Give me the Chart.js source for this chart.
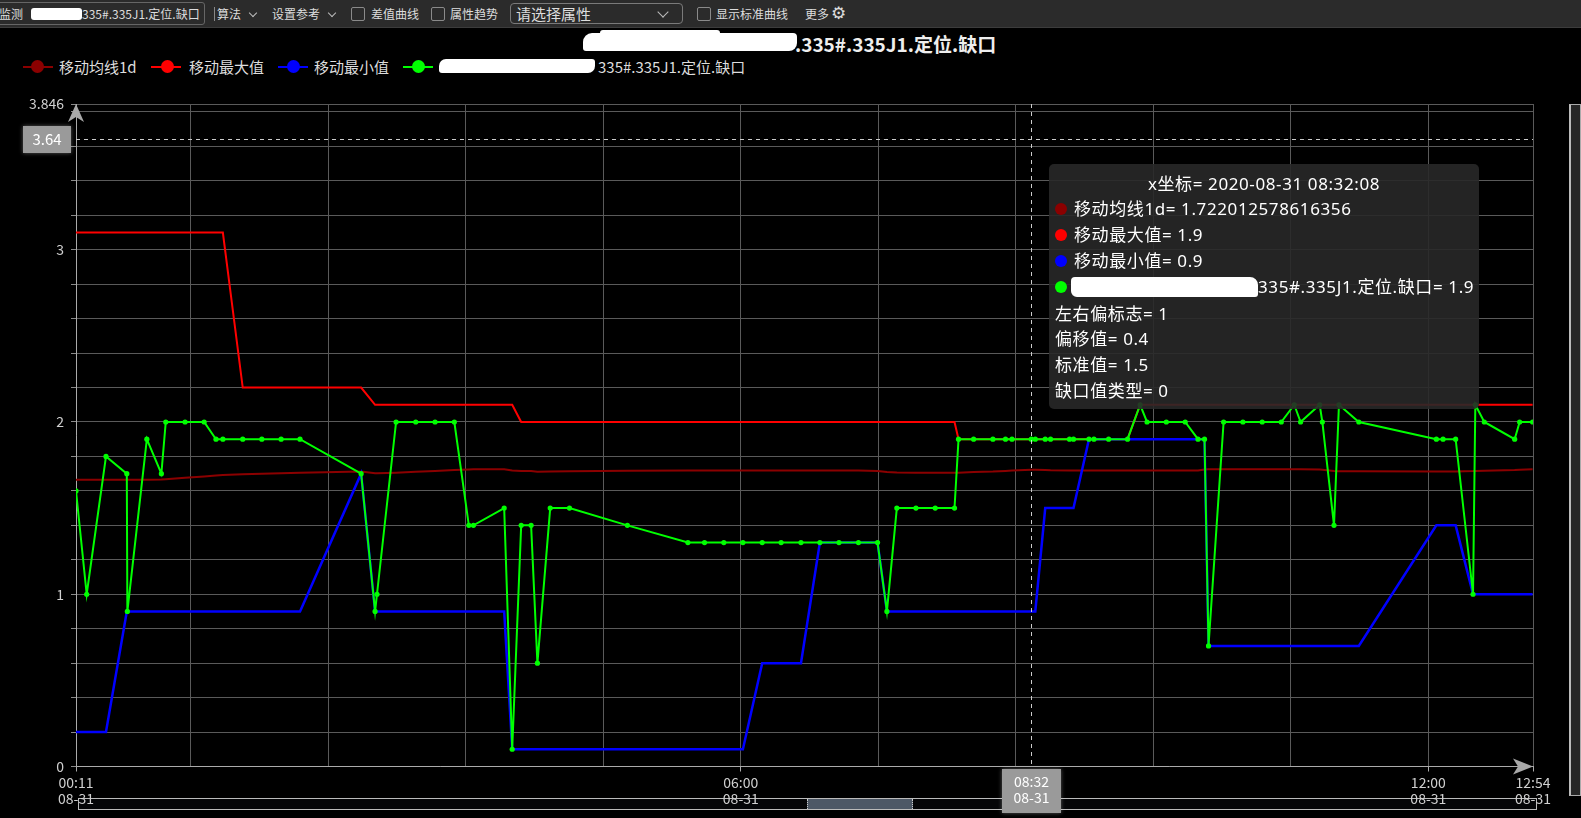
<!DOCTYPE html>
<html><head><meta charset="utf-8">
<script src="https://cdn.jsdelivr.net/npm/chart.js@4.4.1/dist/chart.umd.min.js"></script>
<style>
html,body{margin:0;padding:0;background:#000;width:1581px;height:818px;overflow:hidden;font-family:"Noto Sans CJK SC","Noto Sans",sans-serif;}
.abs{position:absolute;white-space:nowrap;}
#toolbar{position:absolute;left:0;top:0;width:1581px;height:27px;background:#2b2b2b;border-bottom:1px solid #3c3c3c;}
.t12{position:absolute;font-size:12px;color:#ddd;line-height:27px;top:0;white-space:nowrap;}
.cb{position:absolute;top:7px;width:14px;height:14px;border:1px solid #8a8a8a;border-radius:2px;background:#2b2b2b;box-sizing:border-box;}
.chev{position:absolute;width:5px;height:5px;border-right:1px solid #bbb;border-bottom:1px solid #bbb;transform:rotate(45deg);}
.blob{position:absolute;background:#fff;}
.legline{position:absolute;top:9px;height:2px;width:30px;}
.legdot{position:absolute;top:3px;width:13px;height:13px;border-radius:50%;}
.legtxt{position:absolute;font-size:15px;color:#ddd;line-height:19px;top:57px;white-space:nowrap;}
#wrap{position:absolute;left:0;top:0;width:1581px;height:818px;z-index:2;}
#tip{position:absolute;left:1049px;top:164px;width:430px;height:245px;background:rgba(40,40,40,0.9);border-radius:5px;z-index:3;color:#fff;font-size:17px;letter-spacing:0.6px;font-family:"Noto Sans","Noto Sans CJK SC",sans-serif;}
#tip .ln{position:absolute;left:0;height:26px;line-height:26px;white-space:nowrap;}
#tip .d{position:absolute;top:7px;width:12px;height:12px;border-radius:50%;}
</style></head>
<body>
<div id="toolbar">
  <div class="abs" style="left:-3px;top:2px;width:208px;height:23px;border:1px solid #666;border-radius:3px;box-sizing:border-box;overflow:hidden;">
    <span class="abs" style="left:1px;top:0;font-size:12px;color:#ddd;line-height:21px;">监测</span>
    <div class="blob" style="left:33px;top:5px;width:51px;height:12px;border-radius:3px;"></div>
    <span class="abs" style="left:84px;top:0;font-size:12px;color:#ddd;line-height:21px;">335#.335J1.定位.缺口</span>
  </div>
  <div class="abs" style="left:214px;top:7px;width:1px;height:14px;background:#888;"></div>
  <span class="t12" style="left:217px;">算法</span>
  <div class="chev" style="left:250px;top:10px;"></div>
  <span class="t12" style="left:272px;">设置参考</span>
  <div class="chev" style="left:329px;top:10px;"></div>
  <div class="cb" style="left:351px;"></div>
  <span class="t12" style="left:371px;">差值曲线</span>
  <div class="cb" style="left:431px;"></div>
  <span class="t12" style="left:450px;">属性趋势</span>
  <div class="abs" style="left:510px;top:3px;width:173px;height:21px;border:1px solid #7a7a7a;border-radius:4px;box-sizing:border-box;"></div>
  <span class="abs" style="left:516px;top:0;font-size:15px;color:#ddd;line-height:27px;">请选择属性</span>
  <div class="chev" style="left:659px;top:8px;width:7px;height:7px;"></div>
  <div class="cb" style="left:697px;"></div>
  <span class="t12" style="left:716px;">显示标准曲线</span>
  <span class="t12" style="left:805px;">更多</span>
  <span class="abs" style="left:831px;top:0;font-size:17px;color:#ddd;line-height:26px;font-family:'DejaVu Sans';">⚙</span>
</div>

<!-- title -->
<div class="blob" style="left:583px;top:33px;width:214px;height:18px;border-radius:9px 4px 8px 3px;"></div>
<div class="blob" style="left:600px;top:30px;width:120px;height:6px;border-radius:3px;"></div>
<span class="abs" style="left:795px;top:30px;font-size:19px;font-weight:bold;color:#eee;line-height:28px;">.335#.335J1.定位.缺口</span>

<!-- legend -->
<div class="legline" style="left:23px;top:66px;background:#8b0000;"></div><div class="legdot" style="left:31px;top:60px;background:#8b0000;"></div>
<span class="legtxt" style="left:59px;">移动均线1d</span>
<div class="legline" style="left:151px;top:66px;background:#ff0000;"></div><div class="legdot" style="left:161px;top:60px;background:#ff0000;"></div>
<span class="legtxt" style="left:189px;">移动最大值</span>
<div class="legline" style="left:278px;top:66px;background:#0000ff;"></div><div class="legdot" style="left:287px;top:60px;background:#0000ff;"></div>
<span class="legtxt" style="left:314px;">移动最小值</span>
<div class="legline" style="left:403px;top:66px;background:#00ff00;"></div><div class="legdot" style="left:412px;top:60px;background:#00ff00;"></div>
<div class="blob" style="left:439px;top:59px;width:156px;height:14px;border-radius:7px 3px 7px 3px;"></div>
<span class="legtxt" style="left:598px;">335#.335J1.定位.缺口</span>

<!-- slider & scrollbar -->
<div class="abs" style="left:78px;top:798px;width:1459px;height:12px;border:1px solid #bbb;box-sizing:border-box;z-index:1;background:#050608;"></div>
<div class="abs" style="left:807px;top:799px;width:106px;height:10px;background:#4d5866;z-index:1;border-left:1px dotted #ccc;border-right:1px dotted #ccc;box-sizing:border-box;"></div>
<div class="abs" style="left:1569px;top:104px;width:12px;height:692px;border:1px solid #aaa;border-left:2px solid #bbb;background:#262626;box-sizing:border-box;"></div>

<div id="wrap"><canvas id="c" width="1581" height="818"></canvas></div>

<div id="tip">
  <div class="ln" style="top:7px;width:430px;text-align:center;">x坐标= 2020-08-31 08:32:08</div>
  <div class="ln" style="top:32px;left:6px;"><span class="d" style="left:0;background:#8b0000;"></span><span style="position:absolute;left:19px;">移动均线1d= 1.722012578616356</span></div>
  <div class="ln" style="top:58px;left:6px;"><span class="d" style="left:0;background:#ff0000;"></span><span style="position:absolute;left:19px;">移动最大值= 1.9</span></div>
  <div class="ln" style="top:84px;left:6px;"><span class="d" style="left:0;background:#0000ff;"></span><span style="position:absolute;left:19px;">移动最小值= 0.9</span></div>
  <div class="ln" style="top:110px;left:6px;width:420px;"><span class="d" style="left:0;background:#00ff00;"></span>
    <div class="blob" style="left:16px;top:3px;width:187px;height:20px;border-radius:4px 8px 3px 6px;"></div>
    <span style="position:absolute;left:203px;">335#.335J1.定位.缺口= 1.9</span></div>
  <div class="ln" style="top:137px;left:6px;">左右偏标志= 1</div>
  <div class="ln" style="top:162px;left:6px;">偏移值= 0.4</div>
  <div class="ln" style="top:188px;left:6px;">标准值= 1.5</div>
  <div class="ln" style="top:214px;left:6px;">缺口值类型= 0</div>
</div>

<script>
// minutes after 2020-08-31 00:00
const times = [
  11.9, 17.5, 27.6, 38.5, 38.8, 49.0, 56.6, 58.9, 69.0, 79.0,
  85.2, 88.8, 99.2, 109.2, 119.3, 129.2, 161.2, 168.5, 169.5, 179.5,
  189.8, 199.9, 210.0, 217.6, 220.0, 236.1, 240.3, 245.0, 250.2, 253.5,
  260.2, 270.3, 300.6, 332.3, 341.0, 351.1, 361.1, 371.2, 381.1, 391.5,
  401.4, 411.4, 421.6, 431.6, 436.5, 441.7, 451.7, 461.8, 471.9, 474.0,
  481.9, 492.0, 498.6, 502.0, 512.1, 514.2, 519.4, 522.2, 532.1, 534.2,
  542.3, 544.9, 552.6, 562.5, 569.1, 572.7, 582.8, 592.7, 599.4, 602.8,
  604.9, 612.8, 622.9, 633.0, 643.0, 649.8, 653.1, 663.1, 664.5, 670.6,
  673.2, 683.6, 724.2, 727.7, 734.3, 743.4, 744.6, 749.3, 765.2, 767.8,
  774.6
];
const gapValues = [
  1.6, 1.0, 1.8, 1.7, 0.9, 1.9, 1.7, 2.0, 2.0, 2.0,
  1.9, 1.9, 1.9, 1.9, 1.9, 1.9, 1.7, 0.9, 1.0, 2.0,
  2.0, 2.0, 2.0, 1.4, 1.4, 1.5, 0.1, 1.4, 1.4, 0.6,
  1.5, 1.5, 1.4, 1.3, 1.3, 1.3, 1.3, 1.3, 1.3, 1.3,
  1.3, 1.3, 1.3, 1.3, 0.9, 1.5, 1.5, 1.5, 1.5, 1.9,
  1.9, 1.9, 1.9, 1.9, 1.9, 1.9, 1.9, 1.9, 1.9, 1.9,
  1.9, 1.9, 1.9, 1.9, 2.1, 2.0, 2.0, 2.0, 1.9, 1.9,
  0.7, 2.0, 2.0, 2.0, 2.0, 2.1, 2.0, 2.1, 2.0, 1.4,
  2.1, 2.0, 1.9, 1.9, 1.9, 1.0, 2.1, 2.0, 1.9, 2.0,
  2.0
];
const maxValues = [
  3.1, 3.1, 3.1, 3.1, 3.1, 3.1, 3.1, 3.1, 3.1, 3.1,
  3.1, 3.1, 2.2, 2.2, 2.2, 2.2, 2.2, 2.1, 2.1, 2.1,
  2.1, 2.1, 2.1, 2.1, 2.1, 2.1, 2.1, 2.0, 2.0, 2.0,
  2.0, 2.0, 2.0, 2.0, 2.0, 2.0, 2.0, 2.0, 2.0, 2.0,
  2.0, 2.0, 2.0, 2.0, 2.0, 2.0, 2.0, 2.0, 2.0, 1.9,
  1.9, 1.9, 1.9, 1.9, 1.9, 1.9, 1.9, 1.9, 1.9, 1.9,
  1.9, 1.9, 1.9, 1.9, 2.1, 2.1, 2.1, 2.1, 2.1, 2.1,
  2.1, 2.1, 2.1, 2.1, 2.1, 2.1, 2.1, 2.1, 2.1, 2.1,
  2.1, 2.1, 2.1, 2.1, 2.1, 2.1, 2.1, 2.1, 2.1, 2.1,
  2.1
];
const minValues = [
  0.2, 0.2, 0.2, 0.9, 0.9, 0.9, 0.9, 0.9, 0.9, 0.9,
  0.9, 0.9, 0.9, 0.9, 0.9, 0.9, 1.7, 0.9, 0.9, 0.9,
  0.9, 0.9, 0.9, 0.9, 0.9, 0.9, 0.1, 0.1, 0.1, 0.1,
  0.1, 0.1, 0.1, 0.1, 0.1, 0.1, 0.1, 0.6, 0.6, 0.6,
  1.3, 1.3, 1.3, 1.3, 0.9, 0.9, 0.9, 0.9, 0.9, 0.9,
  0.9, 0.9, 0.9, 0.9, 0.9, 0.9, 1.5, 1.5, 1.5, 1.5,
  1.9, 1.9, 1.9, 1.9, 1.9, 1.9, 1.9, 1.9, 1.9, 1.9,
  0.7, 0.7, 0.7, 0.7, 0.7, 0.7, 0.7, 0.7, 0.7, 0.7,
  0.7, 0.7, 1.4, 1.4, 1.4, 1.0, 1.0, 1.0, 1.0, 1.0,
  1.0
];
const maValues = [
  1.664, 1.664, 1.665, 1.665, 1.665, 1.665, 1.666, 1.668, 1.676, 1.684,
  1.689, 1.692, 1.697, 1.700, 1.703, 1.706, 1.712, 1.702, 1.702, 1.706,
  1.711, 1.716, 1.721, 1.724, 1.725, 1.726, 1.718, 1.716, 1.716, 1.711,
  1.712, 1.714, 1.717, 1.718, 1.718, 1.718, 1.718, 1.718, 1.718, 1.718,
  1.718, 1.718, 1.718, 1.716, 1.710, 1.707, 1.706, 1.706, 1.706, 1.706,
  1.709, 1.712, 1.716, 1.718, 1.722, 1.722, 1.721, 1.720, 1.719, 1.719,
  1.719, 1.718, 1.718, 1.718, 1.718, 1.718, 1.718, 1.718, 1.718, 1.724,
  1.725, 1.725, 1.725, 1.725, 1.725, 1.725, 1.725, 1.724, 1.723, 1.716,
  1.714, 1.714, 1.712, 1.712, 1.713, 1.715, 1.716, 1.717, 1.721, 1.723,
  1.725
];
const seriesNames = ['移动均线1d', '移动最大值', '移动最小值', '335#.335J1.定位.缺口'];
const xMin = 11.9, xMax = 774.8;
const xGridValues = [11.9, 72, 144, 216, 288, 360, 432, 504, 576, 648, 720, 774.8];
const xLabelValues = [11.9, 360, 720, 774.8];
const dateLabel = '08-31';
const yMax = 3.846;
const yGridValues = [0, 0.2, 0.4, 0.6, 0.8, 1, 1.2, 1.4, 1.6, 1.8, 2, 2.2, 2.4, 2.6, 2.8, 3, 3.2, 3.4, 3.6, 3.8, 3.846];
const yLabelValues = [0, 1, 2, 3, 3.846];
const crossX = 512.1, crossY = 3.64;

const fmtTime = m => { const h = Math.floor(m / 60), mm = Math.floor(m % 60); return String(h).padStart(2,'0') + ':' + String(mm).padStart(2,'0'); };
const pts = vals => times.map((t, i) => ({x: t, y: vals[i]}));
const FONT = '"Noto Sans CJK SC","Noto Sans",sans-serif';

const overlay = {
  id: 'overlay',
  afterDraw(chart) {
    const {ctx, chartArea: a, scales: {x, y}} = chart;
    ctx.save();
    const cx = Math.round(x.getPixelForValue(crossX)) + 0.5;
    const cy = Math.round(y.getPixelForValue(crossY)) + 0.5;
    ctx.strokeStyle = '#cccccc'; ctx.lineWidth = 1; ctx.setLineDash([4, 4]);
    ctx.beginPath(); ctx.moveTo(cx, a.top); ctx.lineTo(cx, a.bottom); ctx.stroke();
    ctx.beginPath(); ctx.moveTo(a.left, cy); ctx.lineTo(a.right, cy); ctx.stroke();
    ctx.setLineDash([]);
    // axis arrows
    ctx.fillStyle = '#a8a8a8';
    ctx.beginPath();
    ctx.moveTo(a.left, a.top); ctx.lineTo(a.left + 8, a.top + 18); ctx.lineTo(a.left, a.top + 13); ctx.lineTo(a.left - 8, a.top + 18);
    ctx.closePath(); ctx.fill();
    ctx.beginPath();
    ctx.moveTo(a.right, a.bottom); ctx.lineTo(a.right - 20, a.bottom - 8); ctx.lineTo(a.right - 15, a.bottom); ctx.lineTo(a.right - 20, a.bottom + 8);
    ctx.closePath(); ctx.fill();
    // axis pointer labels
    ctx.shadowColor = 'rgba(255,255,255,0.35)'; ctx.shadowBlur = 4;
    ctx.fillStyle = '#9a9a9a';
    ctx.fillRect(23, cy - 13.5, 48, 27);
    ctx.fillRect(cx - 29.5, 769, 59, 44);
    ctx.shadowBlur = 0;
    ctx.fillStyle = '#ffffff'; ctx.textAlign = 'center'; ctx.textBaseline = 'middle';
    ctx.font = '15px ' + FONT;
    ctx.fillText(crossY.toFixed(2), 47, cy);
    ctx.font = '14px ' + FONT;
    ctx.fillText(fmtTime(crossX), cx, 782);
    ctx.fillText(dateLabel, cx, 798);
    ctx.restore();
  }
};

new Chart(document.getElementById('c'), {
  type: 'line',
  data: {
    datasets: [
      {label: seriesNames[3], data: pts(gapValues), borderColor: '#00ff00', backgroundColor: '#00ff00', borderWidth: 2,
       pointRadius: 2.6, pointBorderWidth: 0, pointBackgroundColor: '#00ff00', order: 0},
      {label: seriesNames[2], data: pts(minValues), borderColor: '#0000ff', borderWidth: 2.5, pointRadius: 0, order: 1},
      {label: seriesNames[1], data: pts(maxValues), borderColor: '#ff0000', borderWidth: 2, pointRadius: 0, order: 2},
      {label: seriesNames[0], data: pts(maValues), borderColor: '#8b0000', borderWidth: 2, pointRadius: 0, order: 3}
    ]
  },
  options: {
    responsive: false, animation: false, devicePixelRatio: 1,
    layout: {padding: {top: 104, right: 48, left: 0, bottom: 0}},
    plugins: {legend: {display: false}, tooltip: {enabled: false}},
    elements: {line: {tension: 0}},
    scales: {
      x: {
        type: 'linear', min: xMin, max: xMax,
        afterBuildTicks: s => { s.ticks = xGridValues.map(v => ({value: v})); },
        afterFit: s => { s.height = 51.5; },
        grid: {color: '#5a5a5a', lineWidth: 1, tickLength: 5,
               tickColor: c => (c.tick && xLabelValues.includes(c.tick.value)) ? '#aaaaaa' : 'rgba(0,0,0,0)'},
        border: {color: '#aaaaaa', width: 1},
        ticks: {autoSkip: false, maxRotation: 0, padding: 3, color: '#d0d0d0',
                font: {size: 14, family: FONT, lineHeight: 1.15},
                callback: v => xLabelValues.includes(v) ? [fmtTime(v), dateLabel] : ''}
      },
      y: {
        type: 'linear', min: 0, max: yMax,
        afterBuildTicks: s => { s.ticks = yGridValues.map(v => ({value: v})); },
        afterFit: s => { s.width = 76; },
        grid: {color: '#5a5a5a', lineWidth: 1, tickLength: 5, tickColor: '#8a8a8a'},
        border: {color: '#aaaaaa', width: 1},
        ticks: {autoSkip: false, padding: 7, color: '#d0d0d0', font: {size: 14, family: FONT},
                callback: v => yLabelValues.includes(v) ? String(v) : ''}
      }
    }
  },
  plugins: [overlay]
});
</script>
</body></html>
